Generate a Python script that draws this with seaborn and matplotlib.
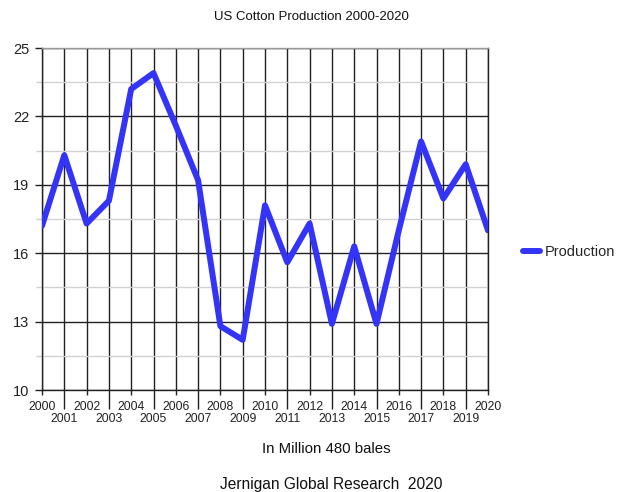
import matplotlib
matplotlib.use("Agg")
import matplotlib.pyplot as plt
import seaborn as sns
import pandas as pd
from matplotlib.ticker import FixedLocator

years = list(range(2000, 2021))
production = [17.2, 20.3, 17.3, 18.3, 23.2, 23.9, 21.6, 19.2, 12.8, 12.2,
              18.1, 15.6, 17.3, 12.9, 16.3, 12.9, 17.0, 20.9, 18.4, 19.9, 17.0]
y_ticks = [10, 13, 16, 19, 22, 25]
y_minor = [11.5, 14.5, 17.5, 20.5, 23.5]

df = pd.DataFrame({"Year": years, "Production": production})

sns.set_theme(style="white")
plt.rcParams["font.family"] = ["Liberation Sans", "DejaVu Sans"]

fig = plt.figure(figsize=(6.2, 4.92), dpi=100)
ax = fig.add_axes([42 / 620, 1 - 390 / 492, (488 - 42) / 620, (390 - 48) / 492])

sns.lineplot(data=df, x="Year", y="Production", ax=ax, color="#3434f8",
             linewidth=4.3, label="Production", zorder=5)

ax.set_xlim(years[0], years[-1])
ax.set_ylim(y_ticks[0], y_ticks[-1])

# even years on the first label row, odd years staggered on a second row
even_years = years[::2]
odd_years = years[1::2]
ax.set_xticks(even_years)
ax.set_xticklabels([str(y) for y in even_years], fontsize=8.8, color="#222222")
ax.set_xticks(odd_years, minor=True)
ax.set_xticklabels([str(y) for y in odd_years], minor=True, fontsize=8.8, color="#222222")

ax.set_yticks(y_ticks)
ax.set_yticklabels([str(v) for v in y_ticks], fontsize=10.5, color="#222222")
ax.yaxis.set_minor_locator(FixedLocator(y_minor))

ax.tick_params(axis="x", which="major", length=3.5, width=1, color="#222222", pad=4.3, bottom=True)
ax.tick_params(axis="x", which="minor", length=13.5, width=1, color="#222222", pad=3.3, bottom=True)
ax.tick_params(axis="y", which="major", length=5, width=1, color="#222222", pad=4, left=True)
ax.tick_params(axis="y", which="minor", length=4, width=1, color="#d0d0d0", left=True)

ax.grid(axis="x", which="both", color="#222222", linewidth=1)
ax.grid(axis="y", which="major", color="#222222", linewidth=1)
ax.grid(axis="y", which="minor", color="#d2d2d2", linewidth=1)
ax.set_axisbelow(True)

for side in ["left", "right", "bottom"]:
    ax.spines[side].set_color("#222222")
    ax.spines[side].set_linewidth(1)
ax.spines["top"].set_color("#999999")
ax.spines["top"].set_linewidth(1)

ax.set_xlabel("")
ax.set_ylabel("")

leg = ax.legend(loc="center left", bbox_to_anchor=(1.065, (390 - 252) / 342), frameon=False,
                fontsize=10.5, handlelength=1.2, handletextpad=0.3, borderaxespad=0)
for line in leg.get_lines():
    line.set_linewidth(4.3)

fig.text(311 / 620, 1 - 17 / 492, "US Cotton Production 2000-2020", ha="center", va="center",
         fontsize=9.5, color="#111111")
fig.text(326 / 620, 1 - 449 / 492, "In Million 480 bales", ha="center", va="center",
         fontsize=10.8, color="#111111")
fig.text(331 / 620, 1 - 484 / 492, "Jernigan Global Research  2020", ha="center", va="center",
         fontsize=11.2, color="#111111")

fig.savefig("out.png", dpi=100, facecolor="white")
